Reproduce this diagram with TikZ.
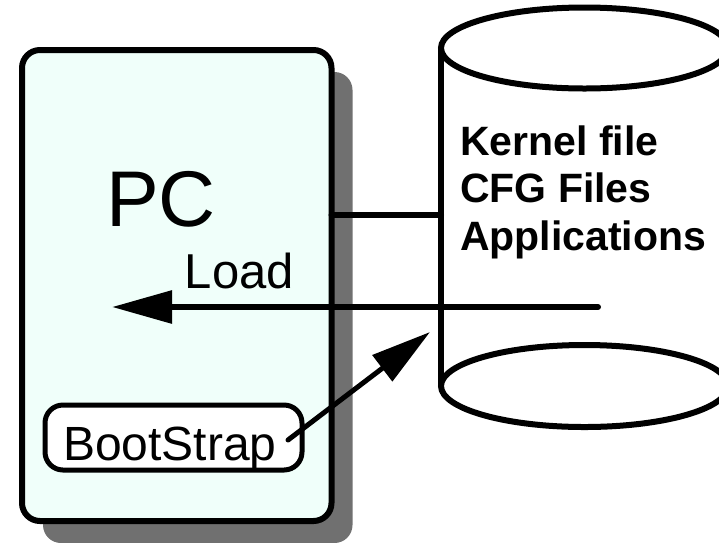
\documentclass[tikz,border=0pt]{standalone}
\usepackage{fontspec}
\setmainfont{Liberation Sans}
\usetikzlibrary{arrows.meta,shadows,calc}
\definecolor{pcfill}{RGB}{240,255,250}
\definecolor{shadowgray}{RGB}{112,112,112}
\begin{document}
\begin{tikzpicture}[x=1pt,y=-1pt,
  box/.style={draw=black, line width=6pt, rounded corners=18pt,
    outer sep=0pt, inner sep=0pt},
  wire/.style={line width=6pt, line cap=round},
  bigtip/.style={-{Triangle[length=60pt,width=32pt]}},
  label/.style={inner sep=0pt, anchor=base west}]
\useasboundingbox (0,0) rectangle (719,542);
\clip (0,0) rectangle (719,542);

% PC frame with its drop shadow
\node[box, fill=pcfill, minimum width=309.5pt, minimum height=471pt,
  drop shadow={shadow xshift=21pt, shadow yshift=-22pt,
    fill=shadowgray, opacity=1}] (pc) at (176.75,285.5) {};
\node[label, font=\fontsize{79}{79}\selectfont] (pclabel) at (106,226.5) {PC};
\node[label, font=\fontsize{49}{49}\selectfont] (loadlabel) at (184.7,288.3) {Load};

% boot loader box
\node[box, line width=5pt, fill=white, minimum width=257pt, minimum height=65pt,
  text width=220.6pt, align=left, text height=45pt, text depth=0pt,
  font=\fontsize{48}{48}\selectfont] (boot) at (173.5,437.5) {BootStrap};

% storage cylinder
\coordinate (cyltop) at (584.5,48);
\coordinate (cylbot) at (584.5,386);
\draw[line width=6pt] (cyltop) ellipse [x radius=143.5, y radius=40.5];
\draw[line width=6pt] (cylbot) ellipse [x radius=143.5, y radius=41];
\draw[line width=6pt] ($(cyltop)+(-143.5,0)$) coordinate (cylnw)
  -- ($(cylbot)+(-143.5,0)$) coordinate (cylsw);
% the base anchor of a multi-line node sits on its last line
\node[label, align=left, font=\fontsize{41}{47.5}\selectfont\bfseries]
  (files) at (460,250) {Kernel file\\CFG Files\\Applications};

% connectors
\coordinate (storelink) at (441,215);
\draw[wire] (pc.east |- storelink) -- (storelink);
\coordinate (loadfrom) at (598,307);
\coordinate (loadto) at (112,307);
\draw[wire, bigtip] (loadfrom) -- (loadto);
\coordinate (bootto) at (430,332);
\draw[wire, line width=5pt, bigtip] ($(boot.east)+(-14,2.5)$) -- (bootto);
\end{tikzpicture}
\end{document}
